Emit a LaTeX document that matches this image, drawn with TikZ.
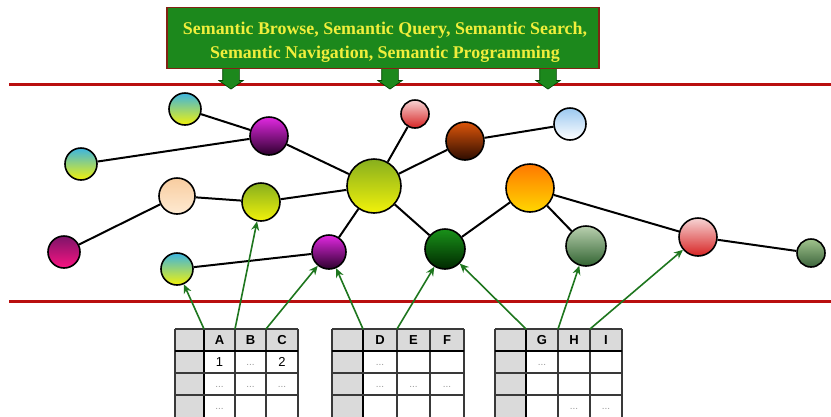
\documentclass[tikz,border=0pt]{standalone}
\usepackage{fontspec}
\setmainfont{Liberation Serif}
\setsansfont{Liberation Sans}
\usetikzlibrary{arrows.meta, shapes.arrows}

\definecolor{bannergreen}{RGB}{28,136,28}
\definecolor{bannertext}{RGB}{240,238,60}
\definecolor{bannerrim}{RGB}{130,35,20}
\definecolor{rulered}{RGB}{185,15,15}
\definecolor{linkgreen}{RGB}{30,118,30}
\definecolor{cellgray}{RGB}{218,218,218}
% ball shades
\definecolor{tealtop}{RGB}{60,180,225}
\definecolor{olivetop}{RGB}{135,175,30}
\definecolor{lemon}{RGB}{242,242,10}
\definecolor{violettop}{RGB}{225,40,225}
\definecolor{violetbot}{RGB}{45,0,45}
\definecolor{peachtop}{RGB}{248,205,160}
\definecolor{peachbot}{RGB}{254,234,210}
\definecolor{plumtop}{RGB}{125,20,105}
\definecolor{plumbot}{RGB}{250,20,130}
\definecolor{blush}{RGB}{246,212,212}
\definecolor{crimson}{RGB}{215,35,35}
\definecolor{rusttop}{RGB}{220,85,10}
\definecolor{rustbot}{RGB}{45,12,0}
\definecolor{skytop}{RGB}{155,200,240}
\definecolor{ambertop}{RGB}{255,120,0}
\definecolor{amberbot}{RGB}{255,215,0}
\definecolor{foresttop}{RGB}{25,145,25}
\definecolor{forestbot}{RGB}{0,40,0}
\definecolor{sagetop}{RGB}{185,208,175}
\definecolor{sagebot}{RGB}{50,100,50}
\definecolor{mosstop}{RGB}{160,195,140}
\definecolor{mossbot}{RGB}{60,100,60}

% one table: name, left edge, then the four column borders
\newcommand{\datagrid}[6]{%
  \fill[cellgray] (#2,329) rectangle (#6,351);
  \fill[cellgray] (#2,351) rectangle (#3,420);
  \foreach \gx in {#2,#4,#5,#6} {\draw[gridline] (\gx,329) -- (\gx,420);}
  \draw[gridline, line width=1.6pt, black] (#3,329) -- (#3,420);
  \foreach \gy in {329,373,395} {\draw[gridline] (#2,\gy) -- (#6,\gy);}
  \draw[gridline, line width=1.6pt, black] (#2,351) -- (#6,351);
  \coordinate (#1-1) at (#3,329);
  \coordinate (#1-2) at (#4,329);
  \coordinate (#1-3) at (#5,329);
}

\begin{document}
\begin{tikzpicture}[x=1pt, y=-1pt,
  ball/.style 2 args={circle, draw=black, line width=1.6pt, inner sep=0pt,
                      top color=#1, bottom color=#2},
  tie/.style={line width=2pt, black},
  link/.style={-{Stealth[length=9pt, width=8pt]}, draw=linkgreen, line width=1.6pt},
  rule/.style={line width=3pt, rulered},
  banner/.style={draw=bannerrim, line width=1.6pt, fill=bannergreen,
                 minimum width=432pt, minimum height=61pt},
  bannerlabel/.style={align=center, text=bannertext,
                      font=\fontsize{17.9}{24}\selectfont\bfseries},
  drop/.style={single arrow, shape border rotate=270, fill=bannergreen,
               draw=green!25!black, line width=0.6pt, inner sep=8pt,
               single arrow head extend=4pt, single arrow tip angle=110},
  gridline/.style={draw=gray!45!black, line width=1.1pt},
  head/.style={font=\sffamily\bfseries\fontsize{13}{13}\selectfont},
  num/.style={font=\sffamily\fontsize{13}{13}\selectfont},
  etc/.style={font=\sffamily\fontsize{10}{10}\selectfont, text=gray!80},
]
\useasboundingbox (0,0) rectangle (831,416);

% Layer bands
\draw[rule] (9,84) -- (831,84);
\draw[rule] (9,301) -- (831,301);

% Drop arrows under the banner
\node[drop] (dropA) at (231,75) {};
\node[drop] (dropB) at (390,75) {};
\node[drop] (dropC) at (548,75) {};

% Banner
\node[banner] (banner) at (383,38) {};
\node[bannerlabel] (services) at (385,42)
  {Semantic Browse, Semantic Query, Semantic Search,\\
   Semantic Navigation, Semantic Programming};

% Graph nodes
\node[ball={tealtop}{lemon}, minimum size=32pt] (cyanA) at (185,109) {};
\node[ball={violettop}{violetbot}, minimum size=38pt] (violetA) at (269,136) {};
\node[ball={tealtop}{lemon}, minimum size=32pt] (cyanB) at (81,164) {};
\node[ball={peachtop}{peachbot}, minimum size=36pt] (peach) at (177,196) {};
\node[ball={olivetop}{lemon}, minimum size=38pt] (lime) at (261,202) {};
\node[ball={olivetop}{lemon}, minimum size=54pt] (hub) at (374,186) {};
\node[ball={plumtop}{plumbot}, minimum size=32pt] (plum) at (64,252) {};
\node[ball={tealtop}{lemon}, minimum size=32pt] (cyanC) at (177,269) {};
\node[ball={violettop}{violetbot}, minimum size=34pt] (violetB) at (329,252) {};
\node[ball={blush}{crimson}, minimum size=28pt] (rose) at (415,114) {};
\node[ball={rusttop}{rustbot}, minimum size=38pt] (brown) at (465,141) {};
\node[ball={skytop}{white}, minimum size=32pt] (sky) at (570,124) {};
\node[ball={ambertop}{amberbot}, minimum size=48pt] (orange) at (530,188) {};
\node[ball={foresttop}{forestbot}, minimum size=40pt] (forest) at (445,249) {};
\node[ball={sagetop}{sagebot}, minimum size=40pt] (sage) at (586,246) {};
\node[ball={blush}{crimson}, minimum size=38pt] (salmon) at (698,237) {};
\node[ball={mosstop}{mossbot}, minimum size=28pt] (moss) at (811,253) {};

% Links between nodes
\draw[tie] (cyanA) -- (violetA);
\draw[tie] (cyanB) -- (violetA);
\draw[tie] (violetA) -- (hub);
\draw[tie] (plum) -- (peach);
\draw[tie] (peach) -- (lime);
\draw[tie] (lime) -- (hub);
\draw[tie] (hub) -- (rose);
\draw[tie] (hub) -- (brown);
\draw[tie] (brown) -- (sky);
\draw[tie] (hub) -- (violetB);
\draw[tie] (violetB) -- (cyanC);
\draw[tie] (hub) -- (forest);
\draw[tie] (forest) -- (orange);
\draw[tie] (orange) -- (sage);
\draw[tie] (orange) -- (salmon);
\draw[tie] (salmon) -- (moss);

% Tables
\datagrid{tabA}{175}{204}{235}{266}{298}
\datagrid{tabB}{332}{363}{397}{430}{464}
\datagrid{tabC}{495}{526}{558}{590}{622}

\node[head] (hA) at (219.5,340) {A};
\node[head] (hB) at (250.5,340) {B};
\node[head] (hC) at (282,340) {C};
\node[head] (hD) at (380,340) {D};
\node[head] (hE) at (413.5,340) {E};
\node[head] (hF) at (447,340) {F};
\node[head] (hG) at (542,340) {G};
\node[head] (hH) at (574,340) {H};
\node[head] (hI) at (606,340) {I};

\node[num] (a11) at (219.5,362) {1};
\node[etc] (a12) at (250.5,365) {...};
\node[num] (a13) at (282,362) {2};
\node[etc] (a21) at (219.5,387) {...};
\node[etc] (a22) at (250.5,387) {...};
\node[etc] (a23) at (282,387) {...};
\node[etc] (a31) at (219.5,409) {...};

\node[etc] (b11) at (380,365) {...};
\node[etc] (b21) at (380,387) {...};
\node[etc] (b22) at (413.5,387) {...};
\node[etc] (b23) at (447,387) {...};

\node[etc] (c11) at (542,365) {...};
\node[etc] (c32) at (574,409) {...};
\node[etc] (c33) at (606,409) {...};

% Column to node arrows
\draw[link] (tabA-1) -- (cyanC);
\draw[link] (tabA-2) -- (lime);
\draw[link] (tabA-3) -- (violetB);
\draw[link] (tabB-1) -- (violetB);
\draw[link] (tabB-2) -- (forest);
\draw[link] (tabC-1) -- (forest);
\draw[link] (tabC-2) -- (sage);
\draw[link] (tabC-3) -- (salmon);

\end{tikzpicture}
\end{document}
